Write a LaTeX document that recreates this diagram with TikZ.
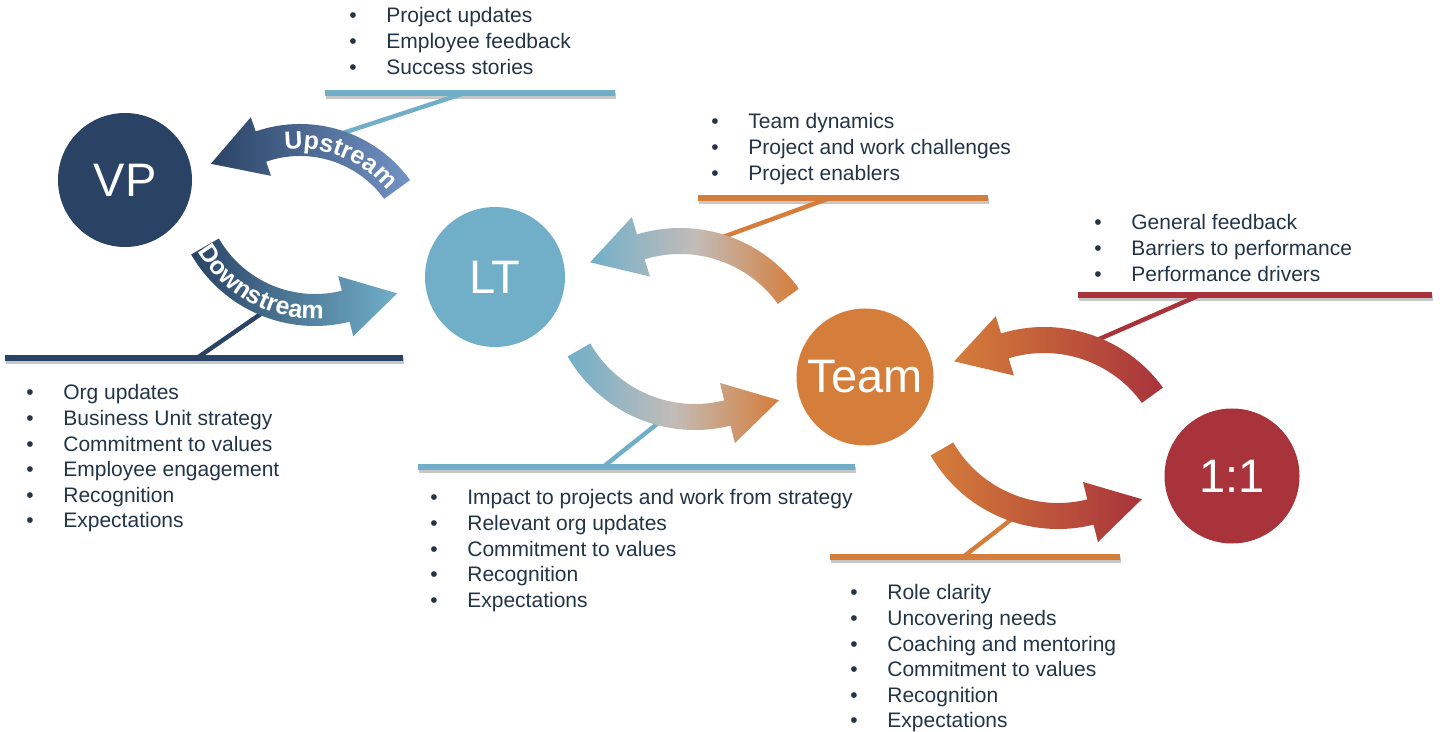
\documentclass[tikz,border=0pt]{standalone}
\usepackage{fontspec}
\setmainfont{Liberation Sans}
\usetikzlibrary{positioning, calc, decorations.text}

\definecolor{vpblue}{HTML}{2A4365}
\definecolor{ltblue}{HTML}{71AFC9}
\definecolor{upblue}{HTML}{7393C4}
\definecolor{teamorange}{HTML}{D57D3A}
\definecolor{onered}{HTML}{A8333B}
\definecolor{ink}{HTML}{243447}
\definecolor{midgrey}{HTML}{C2BCB8}

\tikzset{
  hub/.style={circle, inner sep=0pt, text=white, font=\fontsize{23.5}{26}\selectfont},
  bar/.style={line width=3pt, preaction={draw=black!22, line width=3pt, transform canvas={xshift=0.5pt, yshift=-1.4pt}}},
  link/.style={line width=2.2pt},
  points/.style={anchor=north west, inner sep=0pt, text=ink, font=\fontsize{10.5}{12.8}\selectfont},
  flowtext/.style={decorate, decoration={text along path, text align=center, text={|\fontsize{12.5}{14}\selectfont\bfseries\color{white}|#1}}}
}

\newcommand{\dotitem}[1]{\makebox[18.5pt][l]{\textbullet}#1}

% #1 centre, #2 radius, #3 tail angle, #4 head angle, #5 turn of the tip, #6 half width, #7 shading
\newcommand{\bentarrow}[7]{%
  \shade[#7] ($#1+(#3:#2+#6)$) arc[start angle=#3, end angle=#4, radius=#2+#6]
    -- ($#1+(#4:#2+31)$) -- ($#1+(#4:#2)+(#4#5:53)$) -- ($#1+(#4:#2-31)$)
    -- ($#1+(#4:#2-#6)$) arc[start angle=#4, end angle=#3, radius=#2-#6] -- cycle;}

\begin{document}
\begin{tikzpicture}[x=0.5pt, y=-0.5pt]
\useasboundingbox (0,0) rectangle (1440,732);

% bars under the lists
\draw[bar, ltblue] (325,93) -- (615,93);
\draw[bar, vpblue] (5,358) -- (403,358);
\draw[bar, teamorange] (698,198) -- (988,198);
\draw[bar, ltblue] (418,467) -- (855,467);
\draw[bar, onered] (1078,295) -- (1432,295);
\draw[bar, teamorange] (830,557) -- (1120,557);

% links from the bars to the arrows
\coordinate (upbar) at (465,93);     \coordinate (upend) at (343,133);
\coordinate (downbar) at (197,358);  \coordinate (downend) at (265,311);
\coordinate (ltupbar) at (830,198);  \coordinate (ltupend) at (723,237);
\coordinate (ltdnbar) at (603,467);  \coordinate (ltdnend) at (662,420);
\coordinate (teupbar) at (1200,295); \coordinate (teupend) at (1097,340);
\coordinate (tednbar) at (963,557);  \coordinate (tednend) at (1017,515);
\draw[link, ltblue] (upbar) -- (upend);
\draw[link, vpblue] (downbar) -- (downend);
\draw[link, teamorange] (ltupbar) -- (ltupend);
\draw[link, ltblue] (ltdnbar) -- (ltdnend);
\draw[link, onered] (teupbar) -- (teupend);
\draw[link, teamorange] (tednbar) -- (tednend);

% arrows
\bentarrow{(300,260)}{120}{-36}{-109}{-90}{16}{left color=vpblue, right color=upblue}
\bentarrow{(315,183)}{127}{150}{76}{-90}{16}{left color=vpblue, right color=ltblue}
\bentarrow{(680,375)}{134}{-36}{-107}{-90}{13}{left color=ltblue, right color=teamorange, middle color=midgrey}
\bentarrow{(695,283)}{134}{150}{76}{-90}{13}{left color=ltblue, right color=teamorange, middle color=midgrey}
\bentarrow{(1044,474)}{134}{-36}{-107}{-90}{13}{left color=teamorange, right color=onered}
\bentarrow{(1058,382)}{134}{150}{76}{-90}{13}{left color=teamorange, right color=onered}

\path[flowtext=Upstream] ($(300,260)+(-102:111)$) arc[start angle=-102, end angle=-34, radius=111];
\path[flowtext=Downstream] ($(315,183)+(152:136)$) arc[start angle=152, end angle=84, radius=136];

% circles
\node[hub, fill=vpblue, minimum size=67pt] (vp) at (125,180) {VP};
\node[hub, fill=ltblue, minimum size=70pt] (lt) at (495,277) {LT};
\node[hub, fill=teamorange, minimum size=68.5pt] (team) at (865,377) {Team};
\node[hub, fill=onered, minimum size=67.5pt] (one) at (1232,476) {1:1};

% lists
\node[points] (updates) at (349,4.6) {\begin{tabular}{@{}l@{}}
  \dotitem{Project updates}\\ \dotitem{Employee feedback}\\ \dotitem{Success stories}
\end{tabular}};
\node[points] (dynamics) at (711,110.6) {\begin{tabular}{@{}l@{}}
  \dotitem{Team dynamics}\\ \dotitem{Project and work challenges}\\ \dotitem{Project enablers}
\end{tabular}};
\node[points] (feedback) at (1094,211.6) {\begin{tabular}{@{}l@{}}
  \dotitem{General feedback}\\ \dotitem{Barriers to performance}\\ \dotitem{Performance drivers}
\end{tabular}};
\node[points] (orgnews) at (26,381.6) {\begin{tabular}{@{}l@{}}
  \dotitem{Org updates}\\ \dotitem{Business Unit strategy}\\ \dotitem{Commitment to values}\\
  \dotitem{Employee engagement}\\ \dotitem{Recognition}\\ \dotitem{Expectations}
\end{tabular}};
\node[points] (impact) at (430,486.6) {\begin{tabular}{@{}l@{}}
  \dotitem{Impact to projects and work from strategy}\\ \dotitem{Relevant org updates}\\
  \dotitem{Commitment to values}\\ \dotitem{Recognition}\\ \dotitem{Expectations}
\end{tabular}};
\node[points] (roles) at (850,581.6) {\begin{tabular}{@{}l@{}}
  \dotitem{Role clarity}\\ \dotitem{Uncovering needs}\\ \dotitem{Coaching and mentoring}\\
  \dotitem{Commitment to values}\\ \dotitem{Recognition}\\ \dotitem{Expectations}
\end{tabular}};
\end{tikzpicture}
\end{document}
